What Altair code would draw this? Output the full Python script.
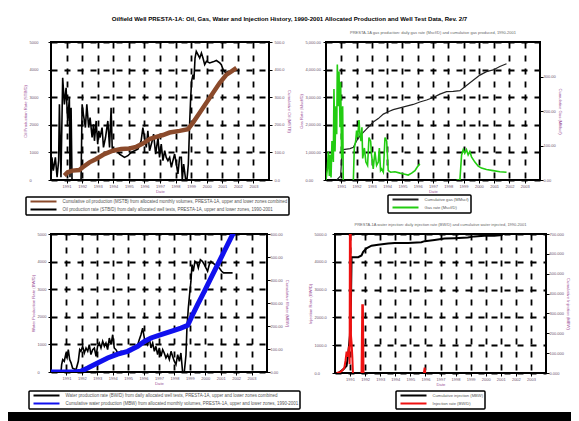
import altair as alt
import pandas as pd

TITLE = ("Oilfield Well PRESTA-1A: Oil, Gas, Water and Injection History, 1990-2001 "
         "Allocated Production and Well Test Data, Rev. 2/7")
YEARS = list(range(1991, 2004))
X_DOMAIN = [1990, 2004]

# ---------------- top-left: oil ----------------
TL_RATE = [(1990.00, 0), (1990.06, 820), (1990.15, 340), (1990.28, 820), (1990.39, 100),
           (1990.49, 700), (1990.54, 2740), (1990.64, 100), (1990.75, 3700), (1990.86, 2740),
           (1990.97, 3340), (1991.07, 2140), (1991.18, 2980), (1991.22, 100), (1991.29, 2620),
           (1991.35, 0), (1991.93, 0), (1992.00, 2740), (1992.08, 2380), (1992.21, 1900),
           (1992.30, 2740), (1992.42, 1900), (1992.51, 2260), (1992.64, 1540), (1992.73, 2020),
           (1992.79, 1420), (1992.90, 2140), (1993.00, 1300), (1993.07, 1780), (1993.15, 1540),
           (1993.28, 1900), (1993.37, 1180), (1993.50, 1540), (1993.65, 2140), (1993.76, 1180),
           (1993.86, 2620), (1993.93, 1180), (1993.97, 1060), (1994.18, 1120), (1994.40, 940),
           (1994.72, 820), (1994.94, 880), (1995.15, 1000), (1995.36, 1060), (1995.58, 1120),
           (1995.79, 1420), (1995.90, 1900), (1996.01, 1540), (1996.12, 1180), (1996.22, 1780),
           (1996.33, 1060), (1996.50, 1420), (1996.59, 1660), (1996.72, 940), (1996.87, 1540),
           (1996.97, 820), (1997.08, 1300), (1997.19, 700), (1997.30, 1060), (1997.40, 820),
           (1997.51, 700), (1997.62, 820), (1997.73, 460), (1997.83, 700), (1997.94, 940),
           (1998.05, 580), (1998.15, 220), (1998.26, 820), (1998.37, 820), (1998.43, 0),
           (1998.52, 580), (1998.65, 0), (1998.73, 0), (1998.82, 580), (1998.91, 2140),
           (1998.97, 2980), (1999.03, 3580), (1999.12, 3820), (1999.18, 3640), (1999.25, 4420),
           (1999.33, 4660), (1999.44, 4540), (1999.55, 4420), (1999.66, 4600), (1999.76, 4420),
           (1999.87, 4180), (1999.98, 4300), (2000.19, 4240), (2000.41, 4280), (2000.62, 4330),
           (2000.84, 4240), (2000.94, 4180), (2001.05, 4000), (2001.22, 3880), (2001.37, 3940),
           (2001.59, 3940)]
TL_CUM = [(1990.86, 16), (1991.07, 28), (1991.39, 34), (1991.82, 36), (1992.04, 46),
          (1992.47, 64), (1992.90, 76), (1993.43, 94), (1993.97, 106), (1994.51, 112),
          (1995.04, 114), (1995.47, 120), (1995.90, 132), (1996.33, 148), (1996.76, 156),
          (1997.19, 163), (1997.62, 172), (1998.26, 178), (1998.80, 184), (1999.12, 208),
          (1999.55, 244), (1999.98, 280), (2000.41, 316), (2000.84, 352), (2001.27, 382),
          (2001.59, 394), (2001.91, 406)]

# ---------------- top-right: gas ----------------
TR_RATE = [(1990.00, 0), (1990.09, 400), (1990.15, 1030), (1990.22, 150), (1990.26, 910),
           (1990.33, 90), (1990.39, 1410), (1990.48, 650), (1990.52, 3300), (1990.59, 1030),
           (1990.65, 2670), (1990.70, 1660), (1990.74, 4180), (1990.81, 2670), (1990.85, 3930),
           (1990.92, 1910), (1990.96, 3550), (1991.02, 780), (1991.09, 2670), (1991.13, 0),
           None,
           (1991.79, 0), (1991.85, 1160), (1991.94, 1410), (1992.00, 1790), (1992.07, 1540),
           (1992.16, 2170), (1992.22, 1660), (1992.29, 1410), (1992.35, 1910), (1992.40, 780),
           (1992.51, 1160), (1992.61, 650), (1992.72, 530), (1992.81, 1540), (1992.92, 1410),
           (1992.98, 910), (1993.09, 400), (1993.20, 1030), (1993.31, 530), (1993.42, 650),
           (1993.49, 1160), (1993.57, 340), (1993.64, 400), (1993.75, 280), (1993.86, 1540),
           (1993.97, 1410), (1994.07, 340), (1994.23, 280), (1994.51, 300), (1994.84, 250),
           (1995.16, 210), (1995.38, 180), (1995.60, 250), (1995.82, 340), (1995.97, 470),
           (1996.14, 590),
           None,
           (1998.54, 0), (1998.76, 0), (1998.87, 910), (1998.98, 1100), (1999.08, 970),
           (1999.19, 1100), (1999.30, 910), (1999.41, 1030), (1999.52, 840), (1999.74, 650),
           (1999.96, 500), (2000.17, 430), (2000.50, 380), (2000.94, 340), (2001.37, 300),
           (2001.81, 280)]
TR_CUM = [(1990.70, 0), (1990.96, 12), (1991.05, 83), (1991.13, 88), (1991.57, 91),
          (1991.79, 95), (1992.00, 113), (1992.22, 128), (1992.44, 138), (1992.66, 148),
          (1992.88, 158), (1993.09, 168), (1993.42, 178), (1993.75, 191), (1994.07, 198),
          (1994.40, 204), (1994.84, 209), (1995.27, 214), (1995.71, 219), (1996.14, 226),
          (1996.58, 232), (1997.02, 239), (1997.45, 249), (1997.89, 256), (1998.32, 257),
          (1998.76, 259), (1999.19, 274), (1999.63, 289), (2000.07, 304), (2000.50, 314),
          (2000.94, 319), (2001.37, 329), (2001.81, 337)]

# ---------------- bottom-left: water ----------------
BL_RATE = [(1990.00, 0), (1990.65, 0), (1990.69, 270), (1990.76, 450), (1990.86, 390),
           (1990.95, 630), (1991.04, 510), (1991.12, 810), (1991.21, 450), (1991.30, 330),
           (1991.40, 140), (1991.62, 80), (1991.77, 390), (1991.86, 810), (1991.94, 750),
           (1992.05, 930), (1992.16, 690), (1992.27, 870), (1992.38, 750), (1992.48, 990),
           (1992.59, 630), (1992.70, 810), (1992.81, 870), (1992.92, 570), (1993.02, 930),
           (1993.13, 1050), (1993.24, 870), (1993.35, 1110), (1993.46, 930), (1993.56, 1050),
           (1993.67, 810), (1993.78, 1230), (1993.89, 990), (1994.00, 1350), (1994.10, 870),
           (1994.21, 810), (1994.32, 690), (1994.54, 750), (1994.75, 720), (1994.97, 770),
           (1995.18, 750), (1995.40, 870), (1995.62, 990), (1995.72, 1170), (1995.83, 1350),
           (1995.94, 1590), (1996.05, 1230), (1996.16, 1110), (1996.26, 990), (1996.37, 1230),
           (1996.48, 870), (1996.59, 1050), (1996.70, 750), (1996.80, 930), (1996.91, 630),
           (1997.02, 870), (1997.13, 570), (1997.24, 810), (1997.34, 690), (1997.45, 510),
           (1997.56, 630), (1997.67, 450), (1997.78, 750), (1997.88, 570), (1997.99, 390),
           (1998.10, 270), (1998.21, 630), (1998.32, 390), (1998.42, 690), (1998.53, 0),
           (1998.64, 0), (1998.75, 630), (1998.81, 1590), (1998.90, 2320), (1998.98, 2800),
           (1999.07, 3290), (1999.14, 3890), (1999.22, 3650), (1999.33, 4010), (1999.46, 3950),
           (1999.55, 3770), (1999.68, 4070), (1999.81, 4010), (1999.94, 3890), (2000.04, 3770),
           (2000.15, 3650), (2000.26, 3890), (2000.37, 4010), (2000.48, 3950), (2000.63, 3890),
           (2000.76, 3830), (2000.91, 3770), (2001.06, 3650), (2001.19, 3590), (2001.34, 3590),
           (2001.77, 3590)]
BL_CUM = [(1990.00, 0), (1990.86, 0), (1991.51, 0), (1991.94, 3), (1992.38, 17),
          (1993.02, 39), (1993.67, 61), (1994.32, 78), (1994.97, 90), (1995.62, 112),
          (1996.05, 133), (1996.48, 148), (1997.13, 162), (1997.78, 177), (1998.42, 191),
          (1998.86, 203), (1999.18, 249), (1999.50, 293), (1999.94, 351), (2000.37, 409),
          (2000.80, 467), (2001.23, 525), (2001.66, 583), (2001.99, 626)]

# ---------------- bottom-right: injection ----------------
BR_RATE = [(1990.11, 0), (1990.33, 30), (1990.48, 90), (1990.62, 190), (1990.70, 450),
           (1990.77, 770), (1990.84, 580), (1990.88, 710), (1990.93, 960), (1990.97, 320),
           (1990.99, 5200), (1991.04, 5200), (1991.06, 1350), (1991.10, 1090), (1991.15, 580),
           (1991.19, 0),
           None,
           (1991.76, 0), (1991.81, 2440), (1991.85, 2440), (1991.89, 0),
           None,
           (1995.90, 0), (1995.95, 190), (1995.99, 0)]
BR_CUM = [(1990.22, 0), (1990.55, 18), (1990.77, 36), (1990.88, 99), (1990.99, 189),
          (1991.06, 368), (1991.10, 583), (1991.21, 583), (1991.54, 583), (1991.76, 592),
          (1991.87, 610), (1992.09, 628), (1992.42, 641), (1992.86, 646), (1993.52, 652),
          (1993.96, 655), (1994.85, 655), (1995.73, 659), (1995.95, 664), (1996.61, 670),
          (1997.27, 677), (1997.93, 679), (1998.81, 682), (1999.25, 688), (1999.91, 691),
          (2000.57, 691), (2001.12, 695)]

TL_LABELS = ["Cumulative oil production (MSTB) from allocated monthly volumes, PRESTA-1A, upper and lower zones combined",
             "Oil production rate (STB/D) from daily allocated well tests, PRESTA-1A, upper and lower zones, 1990-2001"]
TR_LABELS = ["Cumulative gas (MMscf)", "Gas rate (Mscf/D)"]
BL_LABELS = ["Water production rate (BW/D) from daily allocated well tests, PRESTA-1A, upper and lower zones combined",
             "Cumulative water production (MBW) from allocated monthly volumes, PRESTA-1A, upper and lower zones, 1990-2001"]
BR_LABELS = ["Cumulative injection (MBW)", "Injection rate (BW/D)"]

LABEL_COLOR = "#6a4f6a"
TITLE_COLOR = "#a0559a"
FONT = "Liberation Sans"
LINE_SYMBOL = "M-6.5,0L6.5,0"


def frame(points, label):
    rows, seg = [], 0
    for p in points:
        if p is None:
            seg += 1
            continue
        rows.append({"x": p[0], "y": p[1], "s": label, "seg": seg})
    return pd.DataFrame(rows)


def panel(rate_pts, cum_pts, rate_label, cum_label, rate_color, cum_color,
          rate_w, cum_w, legend_order, left_title, right_title,
          left_max, right_max, right_values, width, height,
          legend_x, legend_y, label_size, left_fmt, left_pad, right_fmt, right_pad,
          cum_on_top=True, subtitle=None):
    colors = {rate_label: rate_color, cum_label: cum_color}
    color_scale = alt.Scale(domain=legend_order, range=[colors[k] for k in legend_order])
    legend = alt.Legend(orient="none", legendX=legend_x, legendY=legend_y,
                        direction="vertical", title=None, symbolType=LINE_SYMBOL,
                        symbolSize=16, symbolStrokeWidth=2, symbolOffset=13,
                        labelOffset=16, labelFontSize=label_size, labelFont=FONT,
                        labelColor="#555555", labelLimit=400, padding=1.5,
                        rowPadding=0, strokeColor="black", fillColor="white",
                        cornerRadius=1)
    x_enc = alt.X("x:Q", scale=alt.Scale(domain=X_DOMAIN, nice=False, zero=False),
                  axis=alt.Axis(values=YEARS, format="d", title="Date", grid=True,
                                labelOverlap=False, labelPadding=1.5, titlePadding=1))
    rate = alt.Chart(frame(rate_pts, rate_label)).mark_line(
        clip=True, strokeWidth=rate_w).encode(
        x=x_enc,
        y=alt.Y("y:Q", scale=alt.Scale(domain=[0, left_max], nice=False),
                axis=alt.Axis(orient="left", values=list(range(0, left_max + 1, left_max // 5)),
                              format=left_fmt, title=left_title, grid=True,
                              labelOverlap=False, labelAlign="left",
                              labelPadding=left_pad)),
        color=alt.Color("s:N", scale=color_scale, legend=legend),
        detail="seg:N",
    )
    cum = alt.Chart(frame(cum_pts, cum_label)).mark_line(
        clip=True, strokeWidth=cum_w).encode(
        x=x_enc,
        y=alt.Y("y:Q", scale=alt.Scale(domain=[0, right_max], nice=False),
                axis=alt.Axis(orient="right", values=right_values, format=right_fmt,
                              title=right_title, grid=False, labelOverlap=False,
                              labelPadding=right_pad)),
        color=alt.Color("s:N", scale=color_scale, legend=legend),
        detail="seg:N",
    )
    layers = [rate, cum] if cum_on_top else [cum, rate]
    props = dict(width=width, height=height)
    if subtitle:
        props["title"] = alt.Title(subtitle, fontSize=4, font=FONT, color="#666666",
                                   fontWeight="normal", offset=5)
    return alt.layer(*layers).resolve_scale(y="independent").properties(**props)


def spacer(w):
    return alt.Chart(pd.DataFrame({"v": [0]})).mark_point(opacity=0).encode(
        x=alt.X("v:Q", axis=None), y=alt.Y("v:Q", axis=None)
    ).properties(width=w, height=10, view=alt.ViewBackground(stroke=None, fill=None))


tl = panel(TL_RATE, TL_CUM, TL_LABELS[1], TL_LABELS[0],
           "black", "#8b4a2b", 1.6, 4.5, TL_LABELS,
           "Oil Production Rate (STB/D)", "Cumulative Oil (MSTB)",
           5000, 500, [0, 100, 200, 300, 400, 500], 218, 138, -25, 155, 4.45,
           ".0f", 19, ".1f", 2)

tr = panel(TR_RATE, TR_CUM, TR_LABELS[1], TR_LABELS[0],
           "#22cc11", "#222222", 1.6, 1.2, TR_LABELS,
           "Gas Rate (Mscf/D)", "Cumulative Gas (MMscf)",
           5000, 400, [0, 100, 200, 300], 214, 138, 62, 153, 4.1,
           ",.2f", 18, ".2f", 0, cum_on_top=False,
           subtitle="PRESTA-1A gas production: daily gas rate (Mscf/D) and cumulative gas produced, 1990-2001")

bl = panel(BL_RATE, BL_CUM, BL_LABELS[0], BL_LABELS[1],
           "black", "#1010ee", 1.6, 5, BL_LABELS,
           "Water Production Rate (BW/D)", "Cumulative Water (MBW)",
           5000, 600, [0, 100, 200, 300, 400, 500, 600], 216, 138, -22, 157, 4.45,
           ".0f", 11, ".2f", 0)

br = panel(BR_RATE, BR_CUM, BR_LABELS[1], BR_LABELS[0],
           "#ee1111", "black", 2, 2, BR_LABELS,
           "Injection Rate (BW/D)", "Cumulative Injection (MBW)",
           5000, 700, [0, 100, 200, 300, 400, 500, 600, 700], 211, 139, 61, 157, 4.1,
           ".1f", 18, ".3f", 0, cum_on_top=False,
           subtitle="PRESTA-1A water injection: daily injection rate (BW/D) and cumulative water injected, 1990-2001")

row1 = alt.concat(tl, tr, columns=2, spacing=6, align="none").resolve_scale(color="independent")
row2 = alt.concat(bl, br, columns=2, spacing=5, align="none").resolve_scale(color="independent")
grid = alt.concat(row1, row2, columns=1, spacing=5, align="none").resolve_scale(color="independent")
body = alt.concat(spacer(14), grid, columns=2, spacing=0, align="none").resolve_scale(color="independent")

bar = alt.Chart(pd.DataFrame({"v": [0]})).mark_point(opacity=0).encode(
    x=alt.X("v:Q", axis=None), y=alt.Y("v:Q", axis=None)
).properties(width=563, height=10,
             view=alt.ViewBackground(fill="black", stroke="black", strokeWidth=0))

chart = alt.concat(body, bar, columns=1, spacing=1, align="none").resolve_scale(
    color="independent"
).properties(
    title=alt.Title(TITLE, fontSize=6.1, font=FONT, fontWeight="bold",
                    anchor="middle", offset=8, color="black"),
    padding={"left": 0, "top": 7, "right": 0, "bottom": 0},
    background="white",
).configure_view(
    stroke="black", strokeWidth=2
).configure_axis(
    labelFontSize=4, labelFont=FONT, labelColor=LABEL_COLOR,
    titleFontSize=4.2, titleFont=FONT, titleColor=TITLE_COLOR,
    titleFontWeight="normal", titlePadding=2,
    tickSize=3, tickColor="black", tickWidth=1,
    domain=False, gridColor="black", gridDash=[6, 7], gridWidth=1.8,
    gridOpacity=1,
).configure_legend(
    strokeWidth=1.5
)

chart.save("out.html", embed_options={"renderer": "svg", "actions": False})
